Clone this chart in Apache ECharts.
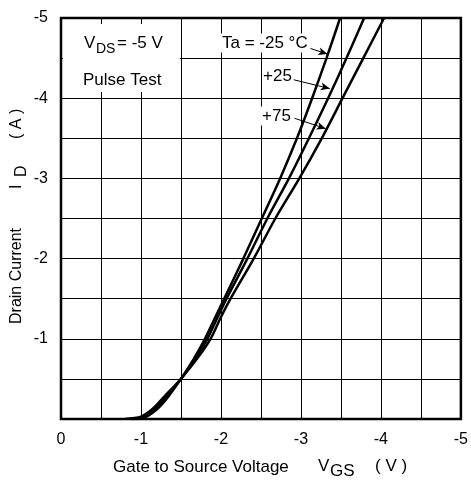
<!DOCTYPE html>
<html><head><meta charset="utf-8">
<script src="https://cdn.jsdelivr.net/npm/echarts@6/dist/echarts.min.js"></script>
<style>html,body{margin:0;padding:0;background:#fff}#c{width:471px;height:480px}</style>
</head><body><div id="c"></div>
<script>
// Gate-source voltage (V) and drain current (A) for each ambient temperature
const vgsM25 = [-0.95, -1.05, -1.15, -1.25, -1.35, -1.5, -1.66, -1.80, -1.92, -2.04, -2.28, -2.51, -2.74, -2.95, -3.14, -3.32, -3.49];
const idM25  = [0, -0.02, -0.08, -0.17, -0.29, -0.5, -0.75, -1.0, -1.25, -1.5, -2.0, -2.5, -3.0, -3.5, -4.0, -4.5, -5.0];
const vgsP25 = [-0.85, -1.0, -1.1, -1.2, -1.3, -1.4, -1.5, -1.68, -1.83, -1.95, -2.07, -2.33, -2.58, -2.85, -3.10, -3.34, -3.57, -3.79];
const idP25  = [0, -0.01, -0.06, -0.15, -0.26, -0.38, -0.5, -0.75, -1.0, -1.25, -1.5, -2.0, -2.5, -3.0, -3.5, -4.0, -4.5, -5.0];
const vgsP75 = [-0.8, -1.0, -1.1, -1.2, -1.3, -1.4, -1.5, -1.70, -1.87, -1.99, -2.12, -2.41, -2.68, -2.98, -3.26, -3.52, -3.78, -4.04];
const idP75  = [0, -0.03, -0.09, -0.18, -0.29, -0.39, -0.5, -0.75, -1.0, -1.25, -1.5, -2.0, -2.5, -3.0, -3.5, -4.0, -4.5, -5.0];
const xTicks = ['0', '-1', '-2', '-3', '-4', '-5'];
const yTicks = ['', '-1', '-2', '-3', '-4', '-5'];

const FONT = '"Liberation Sans", Arial, sans-serif';
const pts = (xs, ys) => xs.map((x, i) => [x, ys[i]]);
const chart = echarts.init(document.getElementById('c'), null, {renderer: 'canvas'});
const curve = (name, data, extra) => Object.assign({
  name, type: 'line', data, smooth: 0.3, symbol: 'none', clip: true,
  lineStyle: {color: '#000', width: 2.5}, z: 5
}, extra || {});
const arrow = (a, b) => [{coord: a}, {coord: b}];
const txt = (x, y, text, size, extra) => ({type: 'text', x, y, z: 11,
  style: Object.assign({text, font: size + 'px ' + FONT, fill: '#000', verticalAlign: 'middle'}, extra || {})});
const WB = {backgroundColor: '#fff', padding: [1, 1]};
chart.setOption({
  animation: false,
  backgroundColor: '#fff',
  grid: {left: 61, top: 18, width: 401, height: 401, show: true, borderColor: '#000', borderWidth: 2.5, backgroundColor: 'transparent'},
  xAxis: {
    type: 'value', min: -5, max: 0, interval: 0.5, inverse: true,
    axisLine: {show: false}, axisTick: {show: false},
    splitLine: {show: true, lineStyle: {color: '#000', width: 1}},
    axisLabel: {color: '#000', fontFamily: 'Liberation Sans', fontSize: 16, margin: 13,
      formatter: v => Number.isInteger(v) ? xTicks[-v] : ''}
  },
  yAxis: {
    type: 'value', min: -5, max: 0, interval: 0.5, inverse: true,
    axisLine: {show: false}, axisTick: {show: false},
    splitLine: {show: true, lineStyle: {color: '#000', width: 1}},
    axisLabel: {color: '#000', fontFamily: 'Liberation Sans', fontSize: 16, margin: 13,
      formatter: v => Number.isInteger(v) ? yTicks[-v] : ''}
  },
  series: [
    curve('-25', pts(vgsM25, idM25), {
      markLine: {silent: true, symbol: ['none', 'arrow'], symbolSize: [6, 9], label: {show: false},
        lineStyle: {color: '#000', width: 1, type: 'solid'},
        data: [
          arrow([-3.12, -4.62], [-3.33, -4.55]),
          arrow([-2.91, -4.23], [-3.36, -4.12]),
          arrow([-2.92, -3.75], [-3.31, -3.62])
        ]}
    }),
    curve('+25', pts(vgsP25, idP25)),
    curve('+75', pts(vgsP75, idP75))
  ],
  graphic: [
    {type: 'rect', shape: {x: 63, y: 24, width: 117, height: 68}, style: {fill: '#fff'}, z: 10},
    txt(84, 43, 'V', 17),
    txt(96, 49, 'DS', 14),
    txt(117, 43, '= -5 V', 17),
    txt(83, 80, 'Pulse Test', 17),
    txt(221, 43, 'Ta = -25 °C', 17, WB),
    txt(262, 76, '+25', 17, WB),
    txt(261, 116, '+75', 17, WB),
    // x axis title
    txt(113, 467, 'Gate to Source Voltage', 17),
    txt(318, 466, 'V', 17),
    txt(330, 471, 'GS', 17),
    txt(375, 466, '( V )', 17),
    // y axis title (rotated)
    {type: 'group', x: 17, y: 0, rotation: Math.PI / 2, children: [
      txt(-324, 0, 'Drain Current', 16),
      txt(-189, 0, 'I', 16),
      txt(-177, 5, 'D', 16),
      txt(-139, 0, '( A )', 16)
    ]}
  ]
});
</script></body></html>
